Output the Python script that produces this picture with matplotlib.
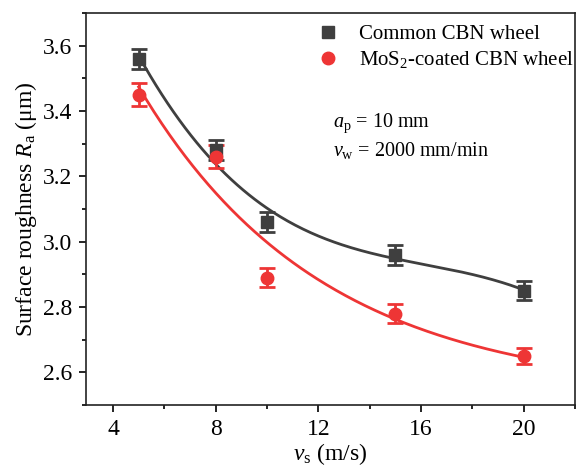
import numpy as np
import matplotlib
matplotlib.use('Agg')
import matplotlib.pyplot as plt
from matplotlib.ticker import MultipleLocator

plt.rcParams['font.family'] = 'Liberation Serif'
plt.rcParams['mathtext.fontset'] = 'custom'
plt.rcParams['mathtext.rm'] = 'Liberation Serif'
plt.rcParams['mathtext.it'] = 'Liberation Serif:italic'

# measured data
vs = [5, 8, 10, 15, 20]
ra_common = [3.56, 3.28, 3.06, 2.96, 2.85]
err_common = [0.03, 0.03, 0.03, 0.03, 0.03]
ra_mos2 = [3.45, 3.26, 2.89, 2.78, 2.65]
err_mos2 = [0.035, 0.035, 0.03, 0.03, 0.025]

black = '#3f3f3f'
red = '#ee3535'

x = np.array(vs, dtype=float)
xs = np.linspace(5, 20, 200)

# cubic fit for the common wheel
p = np.polyfit(x, ra_common, 3)
fit_common = np.polyval(p, xs)

# exponential decay fit for the coated wheel: y = y0 + A*exp(-x/t)
best = None
for t in np.linspace(2, 30, 500):
    M = np.column_stack([np.ones_like(x), np.exp(-x / t)])
    coef, res, _, _ = np.linalg.lstsq(M, np.array(ra_mos2), rcond=None)
    r = np.sum((M @ coef - ra_mos2) ** 2)
    if best is None or r < best[0]:
        best = (r, t, coef)
_, t, coef = best
fit_mos2 = coef[0] + coef[1] * np.exp(-xs / t)

fig = plt.figure(figsize=(5.78, 4.73), dpi=100)
ax = fig.add_axes([86 / 578, 1 - 405 / 473, 489 / 578, 392 / 473])

ax.plot(xs, fit_common, color=black, lw=2)
ax.plot(xs, fit_mos2, color=red, lw=2)
ax.errorbar(vs, ra_common, yerr=err_common, fmt='s', color=black, ms=8,
            capsize=6, capthick=2, elinewidth=2, label='Common CBN wheel')
ax.errorbar(vs, ra_mos2, yerr=err_mos2, fmt='o', color=red, ms=9,
            capsize=6, capthick=2, elinewidth=2, label='MoS$_2$-coated CBN wheel')

ax.set_xlim(2.95, 22)
ax.set_ylim(2.5, 3.7)
ax.xaxis.set_major_locator(MultipleLocator(4))
ax.xaxis.set_minor_locator(MultipleLocator(2))
ax.yaxis.set_major_locator(MultipleLocator(0.2))
ax.yaxis.set_minor_locator(MultipleLocator(0.1))
ax.xaxis.set_major_formatter(matplotlib.ticker.FormatStrFormatter('%d'))
ax.yaxis.set_major_formatter(matplotlib.ticker.FormatStrFormatter('%.1f'))
ax.tick_params(which='both', direction='out', width=1.2, labelsize=17)
ax.tick_params(which='major', length=5, pad=5)
ax.tick_params(which='minor', length=3)
for s in ax.spines.values():
    s.set_linewidth(1.2)
    s.set_color('#222222')

ax.set_xlabel('$\\mathit{v}_\\mathrm{s}$ (m/s)', fontsize=17, labelpad=1)
ax.set_ylabel('Surface roughness $\\mathit{R}_\\mathrm{a}$ ($\\mathrm{\\mu}$m)', fontsize=17, labelpad=3)

handles, labels = ax.get_legend_handles_labels()
handles = [h[0] for h in handles]
ax.legend(handles, labels, loc='upper right', bbox_to_anchor=(1.022, 1.0), frameon=False,
          fontsize=15, handletextpad=1.0, borderaxespad=0.15, labelspacing=0.25,
          handlelength=1.0)

ax.text(0.505, 0.71, '$\\mathit{a}_\\mathrm{p}$ = 10 mm', transform=ax.transAxes, fontsize=14.5)
ax.text(0.505, 0.635, '$\\mathit{v}_\\mathrm{w}$ = 2000 mm/min', transform=ax.transAxes, fontsize=14.5)

fig.savefig('out.png', dpi=100)
